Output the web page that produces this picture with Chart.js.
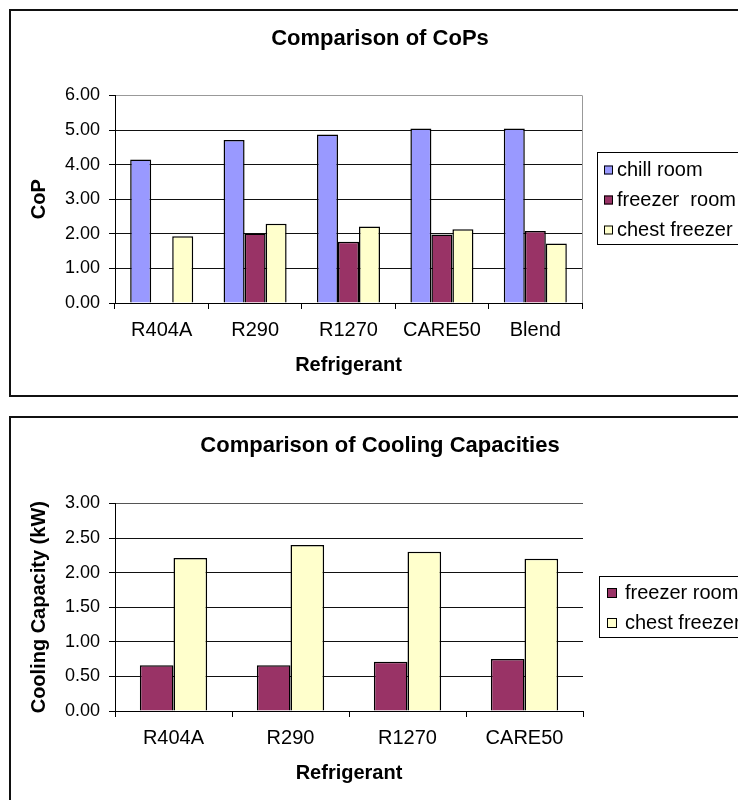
<!DOCTYPE html>
<html>
<head>
<meta charset="utf-8">
<script src="https://cdn.jsdelivr.net/npm/chart.js@4.4.0/dist/chart.umd.min.js"></script>
<style>
    html, body { margin: 0; padding: 0; background: #fff; overflow: hidden; width: 738px; height: 800px; }
    .caixa { position: absolute; border: 2px solid #111; box-sizing: border-box; }
    canvas { position: absolute; left: 0; }
</style>
</head>
<body>
<div class="caixa" style="left:9px; top:9px; width:780px; height:388px;"></div>
<div class="caixa" style="left:9px; top:416px; width:780px; height:420px;"></div>
<canvas id="graficoCop" width="760" height="400" style="top:0"></canvas>
<canvas id="graficoCapacidade" width="760" height="400" style="top:400px"></canvas>

<script>
// dados
const refrigerantesCop = ['R404A', 'R290', 'R1270', 'CARE50', 'Blend'];
const copChillRoom = [4.15, 4.71, 4.87, 5.04, 5.04];
const copFreezerRoom = [null, 2.01, 1.77, 1.98, 2.08];
const copChestFreezer = [1.93, 2.29, 2.21, 2.13, 1.72];

const refrigerantesCapacidade = ['R404A', 'R290', 'R1270', 'CARE50'];
const capFreezerRoom = [0.66, 0.66, 0.71, 0.75];
const capChestFreezer = [2.21, 2.40, 2.30, 2.20];

const corChill = '#9999FF';
const corFreezer = '#993366';
const corChest = '#FFFFCC';

Chart.defaults.font.family = 'Arial, "Liberation Sans", sans-serif';
Chart.defaults.color = '#000';

// legenda no estilo do Excel, com caixa em volta
const legendaExcel = {
    id: 'legendaExcel',
    afterDraw(chart, args, opts) {
        const ctx = chart.ctx;
        ctx.save();
        ctx.lineWidth = 1;
        if (opts.bordaDireita) {
            ctx.strokeStyle = '#999';
            ctx.beginPath();
            ctx.moveTo(chart.chartArea.right + 0.5, chart.chartArea.top);
            ctx.lineTo(chart.chartArea.right + 0.5, chart.chartArea.bottom);
            ctx.stroke();
        }
        ctx.strokeStyle = '#000';
        ctx.strokeRect(opts.x + 0.5, opts.y + 0.5, opts.w, opts.h);
        ctx.font = '20px Arial, "Liberation Sans", sans-serif';
        ctx.textBaseline = 'middle';
        chart.data.datasets.forEach(function (ds, i) {
            const cy = opts.y + opts.primeira + i * opts.passo;
            ctx.fillStyle = ds.backgroundColor;
            ctx.fillRect(opts.quadX, cy - opts.lado / 2, opts.lado, opts.lado);
            ctx.strokeRect(opts.quadX + 0.5, cy - opts.lado / 2 + 0.5, opts.lado - 1, opts.lado - 1);
            ctx.fillStyle = '#000';
            ctx.fillText(ds.label, opts.textoX, cy);
        });
        ctx.restore();
    }
};

function criarBarras(label, dados, cor, catPct) {
    return {
        label: label,
        data: dados,
        yAxisID: 'y',
        backgroundColor: cor,
        borderColor: '#000',
        borderWidth: 1.5,
        categoryPercentage: catPct,
        barPercentage: 1
    };
}

function plotarGrafico(id, labels, datasets, cfg) {
    const config = {
        type: 'bar',
        data: { labels: labels, datasets: datasets },
        plugins: [legendaExcel],
        options: {
            responsive: false,
            animation: false,
            layout: { padding: cfg.padding },
            plugins: {
                legend: { display: false },
                tooltip: { enabled: false },
                title: {
                    display: true,
                    text: cfg.titulo,
                    color: '#000',
                    font: { size: 22, weight: 'bold' },
                    padding: cfg.tituloPadding
                },
                legendaExcel: cfg.legenda
            },
            scales: {
                x: {
                    ticks: { font: { size: 20 }, color: '#000', padding: 9 },
                    grid: { drawOnChartArea: false, tickLength: 6, color: '#000', offset: true },
                    border: { color: '#000', width: 1 },
                    title: {
                        display: true, text: 'Refrigerant', color: '#000',
                        font: { size: 20, weight: 'bold' }, padding: { top: 0, bottom: 11 }
                    },
                    afterFit: function (s) { s.height = 85; }
                },
                y: {
                    min: 0,
                    max: cfg.maximo,
                    ticks: {
                        stepSize: cfg.passo,
                        font: { size: 18 },
                        color: '#000',
                        padding: 9,
                        callback: function (v) { return v.toFixed(2); }
                    },
                    grid: {
                        color: function (c) { return c.tick && c.tick.value === cfg.maximo ? cfg.corTopo : '#111'; },
                        tickColor: '#000',
                        tickLength: 6
                    },
                    border: { color: '#000', width: 1 },
                    title: {
                        display: true, text: cfg.tituloY, color: '#000',
                        font: { size: 20, weight: 'bold' }, padding: { top: 16, bottom: 0 }
                    },
                    afterFit: function (s) { s.width = 104; }
                },
                // eixo vazio a direita: reserva o lugar da legenda e deixa o titulo centrado como no Excel
                y2: {
                    position: 'right',
                    grid: { display: false },
                    border: { display: false },
                    ticks: { display: false },
                    afterFit: function (s) { s.width = cfg.larguraLegenda; }
                }
            }
        }
    };
    return new Chart(document.getElementById(id), config);
}

plotarGrafico('graficoCop', refrigerantesCop, [
    criarBarras('chill room', copChillRoom, corChill, 0.675),
    criarBarras('freezer  room', copFreezerRoom, corFreezer, 0.675),
    criarBarras('chest freezer', copChestFreezer, corChest, 0.675)
], {
    titulo: 'Comparison of CoPs',
    tituloY: 'CoP',
    maximo: 6,
    passo: 1,
    corTopo: '#999',
    larguraLegenda: 167,
    padding: { left: 11, right: 11, top: 11, bottom: 12 },
    tituloPadding: { top: 15, bottom: 43 },
    legenda: { x: 597, y: 152, w: 200, h: 92, primeira: 18, passo: 30, quadX: 604, lado: 9, textoX: 617, bordaDireita: true }
});

plotarGrafico('graficoCapacidade', refrigerantesCapacidade, [
    criarBarras('freezer room', capFreezerRoom, corFreezer, 0.575),
    criarBarras('chest freezer', capChestFreezer, corChest, 0.575)
], {
    titulo: 'Comparison of Cooling Capacities',
    tituloY: 'Cooling Capacity (kW)',
    maximo: 3,
    passo: 0.5,
    corTopo: '#555',
    larguraLegenda: 166,
    padding: { left: 11, right: 11, top: 11, bottom: 4 },
    tituloPadding: { top: 22, bottom: 44 },
    legenda: { x: 599, y: 176, w: 200, h: 61, primeira: 17, passo: 30, quadX: 607, lado: 10, textoX: 625, bordaDireita: false }
});
</script>
</body>
</html>
